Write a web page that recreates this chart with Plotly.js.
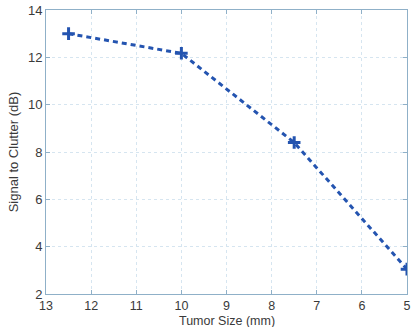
<!DOCTYPE html>
<html><head><meta charset="utf-8">
<script src="https://cdn.plot.ly/plotly-3.0.1.min.js"></script>
<style>html,body{margin:0;padding:0;background:#fff}#c{width:411px;height:327px}</style>
</head><body><div id="c"></div>
<script>
var tumorSize = [12.5, 10, 7.5, 5];
var signalToClutter = [13.0, 12.17, 8.4, 3.05];
var xTicks = [13, 12, 11, 10, 9, 8, 7, 6, 5];
var yTicks = [2, 4, 6, 8, 10, 12, 14];
var xTitle = 'Tumor Size (mm)';
var yTitle = 'Signal to Clutter (dB)';

var axisCol = '#8fb0c8';
var gridCol = '#d6e5f0';
var textCol = '#3a3a3a';
var trace = {
  x: tumorSize, y: signalToClutter, mode: 'lines+markers', type: 'scatter',
  line: {color: '#2454b0', width: 3, dash: '5px,4px'},
  marker: {symbol: 'cross-thin', size: 9, line: {color: '#2454b0', width: 3}}
};
var layout = {
  width: 411, height: 327,
  margin: {l: 46, r: 4, t: 10, b: 33},
  paper_bgcolor: '#fff', plot_bgcolor: '#fff',
  showlegend: false,
  font: {family: 'Liberation Sans, Arial, sans-serif', size: 13, color: textCol},
  xaxis: {
    range: [13, 5], tickvals: xTicks, ticks: 'inside', ticklen: 4, tickcolor: axisCol,
    showline: true, linecolor: axisCol, linewidth: 1, mirror: 'ticks',
    showgrid: true, gridcolor: gridCol, griddash: 'dot', zeroline: false,
    tickfont: {size: 12.5, color: textCol}
  },
  yaxis: {
    range: [2, 14], tickvals: yTicks, ticks: 'inside', ticklen: 4, tickcolor: axisCol,
    showline: true, linecolor: axisCol, linewidth: 1, mirror: 'ticks',
    showgrid: true, gridcolor: gridCol, griddash: 'dot', zeroline: false,
    tickfont: {size: 13, color: textCol},
    title: {text: yTitle, font: {size: 13, color: textCol}, standoff: 6}
  },
  annotations: [{
    text: xTitle, xref: 'paper', yref: 'paper', x: 0.5, y: 0,
    xanchor: 'center', yanchor: 'top', yshift: -18, showarrow: false,
    font: {size: 12.5, color: textCol}
  }]
};
Plotly.newPlot('c', [trace], layout, {staticPlot: true, displayModeBar: false});
</script></body></html>
